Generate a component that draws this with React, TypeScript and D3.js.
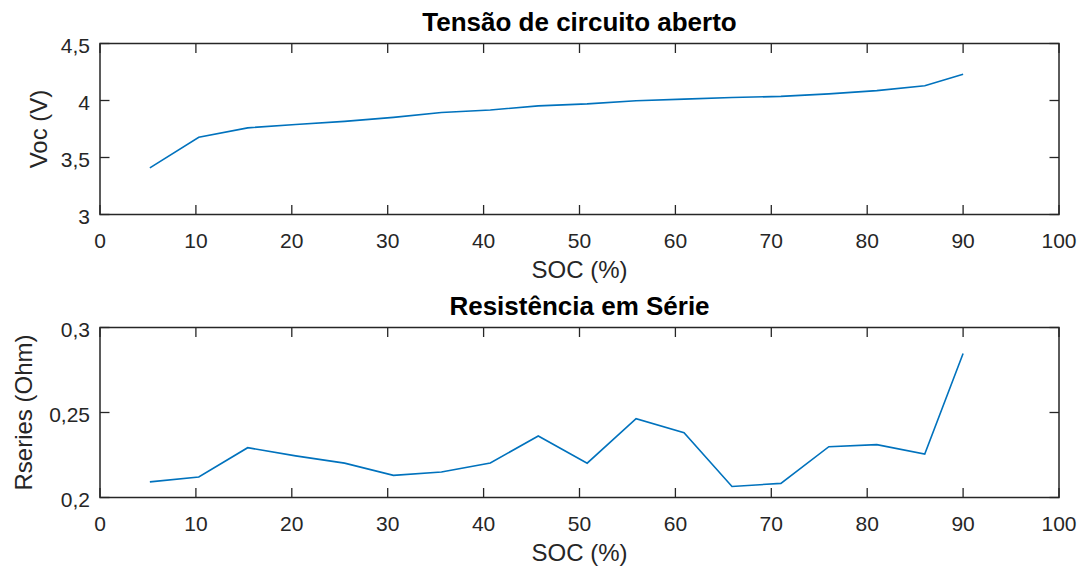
import React from "react";
import * as d3 from "d3";

// SOC sample points (%) and the measured parameters at each point
const soc = [5.2, 10.3, 15.4, 20.4, 25.5, 30.6, 35.6, 40.7, 45.7, 50.8, 55.9, 60.9, 65.9, 71.0, 76.0, 81.0, 86.0, 90.0];
const voc = [3.409, 3.678, 3.76, 3.79, 3.817, 3.852, 3.895, 3.917, 3.953, 3.97, 3.998, 4.012, 4.026, 4.036, 4.058, 4.087, 4.13, 4.23];
const rseries = [0.2092, 0.2121, 0.2293, 0.2245, 0.2202, 0.2130, 0.2150, 0.2203, 0.2362, 0.2202, 0.2464, 0.2381, 0.2065, 0.2083, 0.2299, 0.2311, 0.2255, 0.2847];

const xTicks = [0, 10, 20, 30, 40, 50, 60, 70, 80, 90, 100];
const vocTicks = [3, 3.5, 4, 4.5];
const rTicks = [0.2, 0.25, 0.3];

const fmt = (v: number) => String(v).replace(".", ",");

const AX = "#262626";
const LINE = "#0072BD";
const FONT = "'Liberation Sans', Arial, Helvetica, sans-serif";

type PanelProps = {
  top: number;
  bottom: number;
  ys: number[];
  yDomain: [number, number];
  yTicks: number[];
  title: string;
  yLabel: string;
  yLabelX: number;
};

function Panel({ top, bottom, ys, yDomain, yTicks, title, yLabel, yLabelX }: PanelProps) {
  const left = 100;
  const right = 1059;
  const x = d3.scaleLinear().domain([0, 100]).range([left, right]);
  const y = d3.scaleLinear().domain(yDomain).range([bottom, top]);
  const line = d3
    .line<number>()
    .x((_, i) => x(soc[i]))
    .y((d) => y(d));
  const tl = 9.5;
  return (
    <g>
      <path d={line(ys) || ""} fill="none" stroke={LINE} strokeWidth={1.6} />
      {xTicks.map((t) => (
        <g key={"x" + t}>
          <line x1={x(t)} x2={x(t)} y1={bottom} y2={bottom - tl} stroke={AX} strokeWidth={1.3} />
          <line x1={x(t)} x2={x(t)} y1={top} y2={top + tl} stroke={AX} strokeWidth={1.3} />
          <text x={x(t)} y={bottom + 33} textAnchor="middle" fontSize={21} fill={AX} fontFamily={FONT}>
            {t}
          </text>
        </g>
      ))}
      {yTicks.map((t) => (
        <g key={"y" + t}>
          <line x1={left} x2={left + tl} y1={y(t)} y2={y(t)} stroke={AX} strokeWidth={1.3} />
          <line x1={right} x2={right - tl} y1={y(t)} y2={y(t)} stroke={AX} strokeWidth={1.3} />
          <text x={90} y={y(t) + 9.5} textAnchor="end" fontSize={21} fill={AX} fontFamily={FONT}>
            {fmt(t)}
          </text>
        </g>
      ))}
      <rect x={left} y={top} width={right - left} height={bottom - top} fill="none" stroke={AX} strokeWidth={1.5} />
      <text x={(left + right) / 2} y={top - 12.5} textAnchor="middle" fontSize={26} fontWeight="bold" fill="#000" fontFamily={FONT}>
        {title}
      </text>
      <text x={(left + right) / 2} y={bottom + 63} textAnchor="middle" fontSize={24} fill={AX} fontFamily={FONT}>
        SOC (%)
      </text>
      <text
        transform={`translate(${yLabelX},${(top + bottom) / 2}) rotate(-90)`}
        textAnchor="middle"
        fontSize={24}
        fill={AX}
        fontFamily={FONT}
      >
        {yLabel}
      </text>
    </g>
  );
}

export default function App() {
  return (
    <svg
      width={1084}
      height={571}
      style={{ position: "absolute", left: 0, top: 0, background: "#fff" }}
    >
      <rect width={1084} height={571} fill="#fff" />
      <Panel
        top={43.5}
        bottom={214.5}
        ys={voc}
        yDomain={[3, 4.5]}
        yTicks={vocTicks}
        title="Tensão de circuito aberto"
        yLabel="Voc (V)"
        yLabelX={47}
      />
      <Panel
        top={327.5}
        bottom={497.5}
        ys={rseries}
        yDomain={[0.2, 0.3]}
        yTicks={rTicks}
        title="Resistência em Série"
        yLabel="Rseries (Ohm)"
        yLabelX={32}
      />
    </svg>
  );
}
